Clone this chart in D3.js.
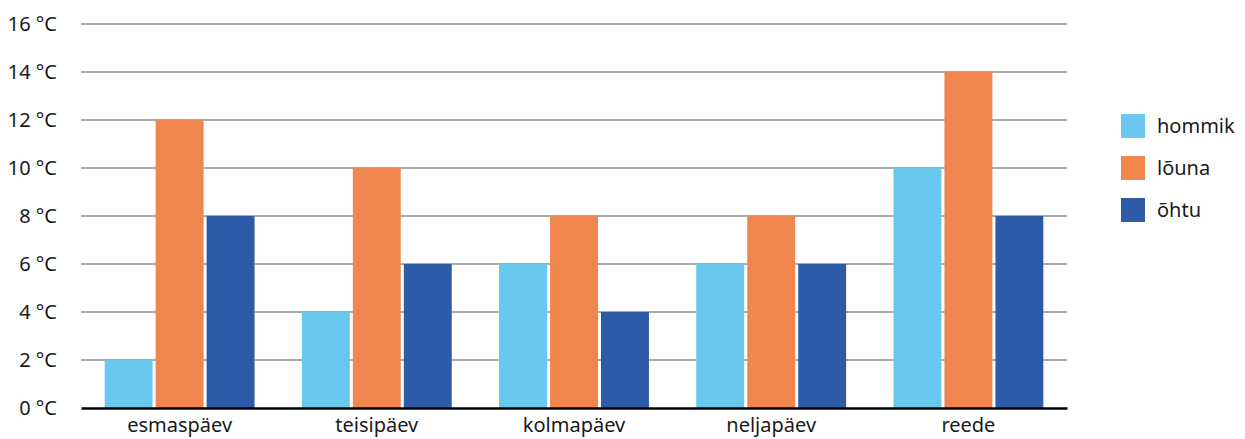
<!DOCTYPE html>
<html><head><meta charset="utf-8">
<script src="https://cdn.jsdelivr.net/npm/d3@7"></script>
<style>
html,body{margin:0;padding:0;background:#fff;}
text{font-family:"Noto Sans",sans-serif;fill:#1a1a1a;}
</style></head>
<body><svg id="c" width="1245" height="439"></svg>
<script>
const days = ["esmaspäev","teisipäev","kolmapäev","neljapäev","reede"];
const seriesNames = ["hommik","lõuna","õhtu"];
const hommik = [2,4,6,6,10];
const louna = [12,10,8,8,14];
const ohtu = [8,6,4,6,8];
const yTicks = [0,2,4,6,8,10,12,14,16];
const colors = ["#68C8F0","#F0864E","#2D5BA8"];

(function(){
const seriesVals = [hommik, louna, ohtu];
const svg = d3.select("#c");
const mLeft = 81, mRight = 1067, mTop = 24, mBottom = 408;

const y = d3.scaleLinear().domain([0,16]).range([mBottom, mTop]);
const x0 = d3.scaleBand().domain(days).range([mLeft, mRight]).paddingInner(0.24).paddingOuter(0.12);
const x1 = d3.scaleBand().domain(seriesNames).range([0, x0.bandwidth()]).paddingInner(0.06);

// gridlines
svg.append("g").selectAll("line").data(yTicks.filter(d=>d>0)).join("line")
  .attr("x1", mLeft).attr("x2", mRight)
  .attr("y1", d=>y(d)).attr("y2", d=>y(d))
  .attr("stroke", "#ababab").attr("stroke-width", 2);

// y labels
const yAxis = d3.axisLeft(y).tickValues(yTicks).tickSize(0).tickPadding(0).tickFormat(d=>d+" °C");
const ya = svg.append("g").attr("transform", `translate(${mLeft-24},0)`).call(yAxis);
ya.select(".domain").remove();
ya.selectAll("text").style("font-size","20px").attr("font-family",null).attr("fill","#1a1a1a");

// bars
const g = svg.append("g");
days.forEach((day, i) => {
  seriesNames.forEach((s, j) => {
    g.append("rect")
      .attr("x", x0(day) + x1(s))
      .attr("width", x1.bandwidth())
      .attr("y", y(seriesVals[j][i]))
      .attr("height", y(0) - y(seriesVals[j][i]))
      .attr("fill", colors[j]);
  });
});

// x axis
const xAxis = d3.axisBottom(x0).tickSize(0).tickPadding(10);
const xa = svg.append("g").attr("transform", `translate(0,${mBottom})`).call(xAxis);
xa.select(".domain").attr("stroke","#000").attr("stroke-width",2.5);
xa.selectAll("text").style("font-size","20px").attr("font-family",null).attr("fill","#1a1a1a");

// legend
const leg = svg.append("g").attr("transform","translate(1121,114)");
seriesNames.forEach((s,j)=>{
  leg.append("rect").attr("x",0).attr("y",j*42).attr("width",24).attr("height",24).attr("fill",colors[j]);
  leg.append("text").attr("x",36).attr("y",j*42+12).attr("dy","0.35em").style("font-size","20px").text(s);
});
})();
</script></body></html>
